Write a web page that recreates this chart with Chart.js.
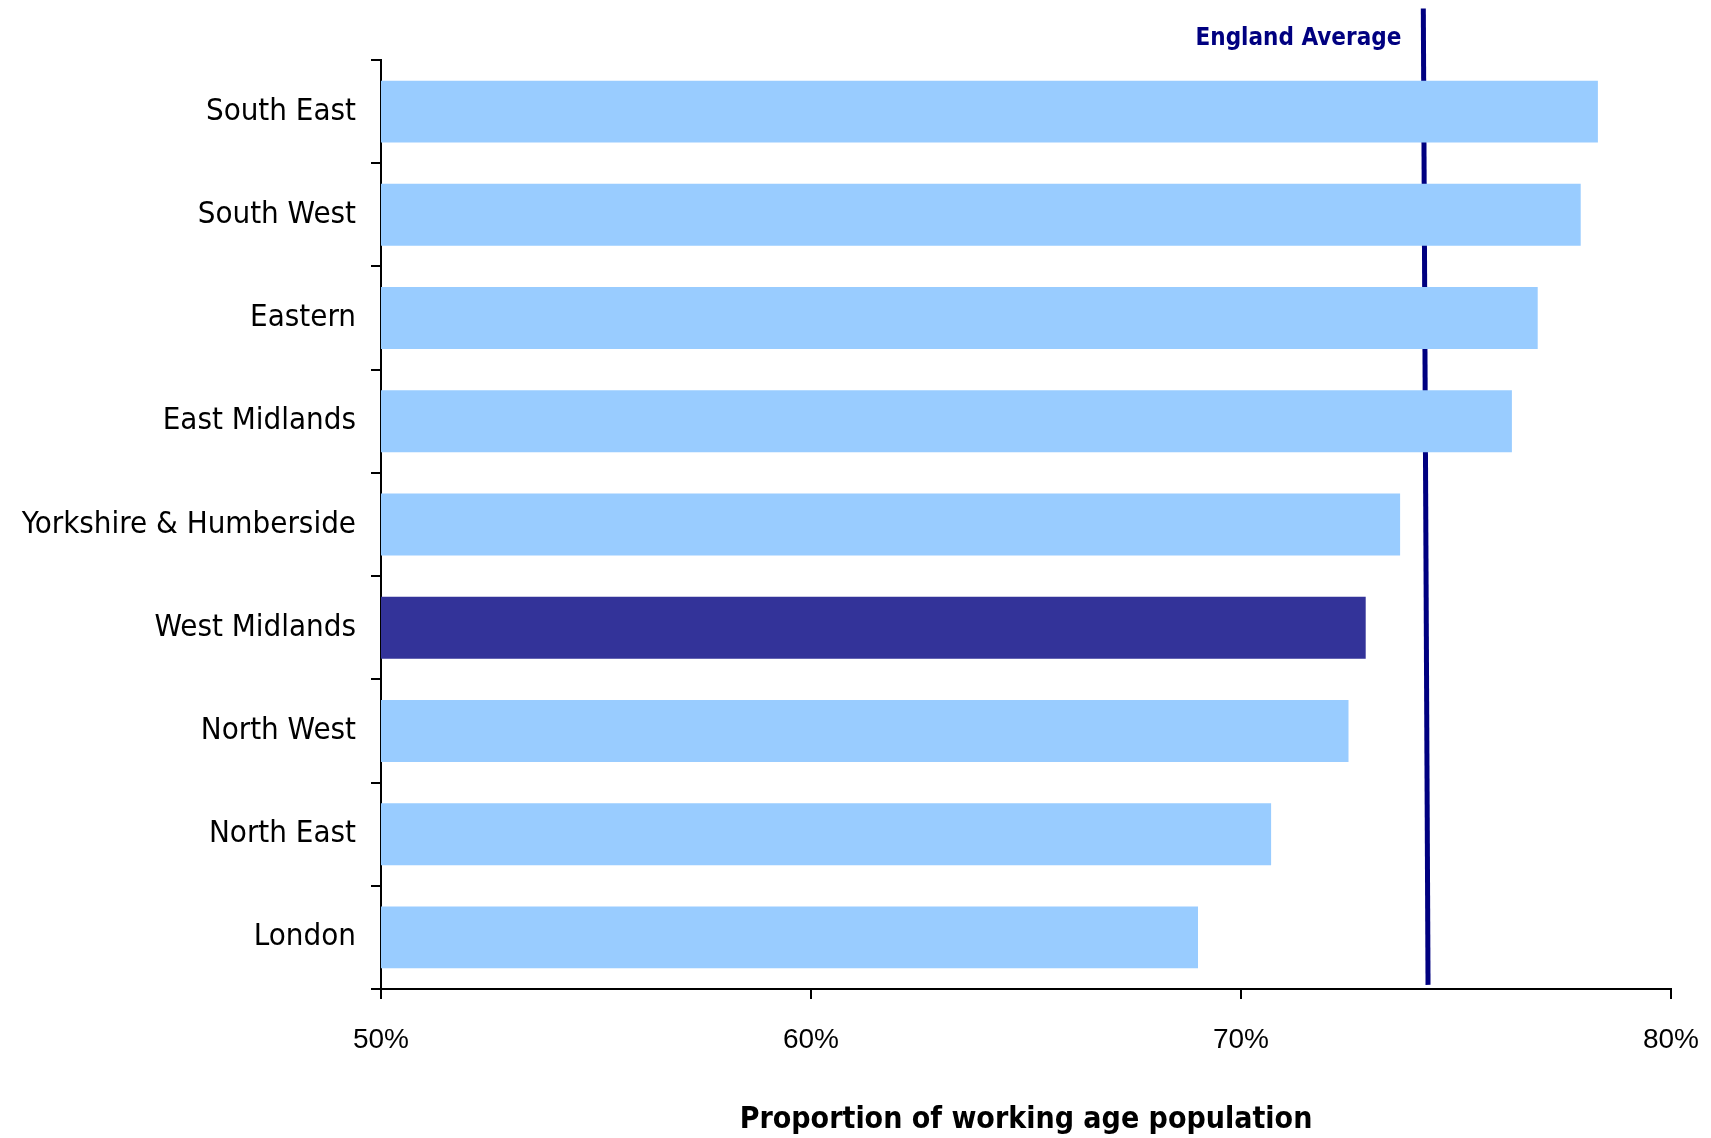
<!DOCTYPE html>
<html>
<head>
<meta charset="utf-8">
<script src="https://cdn.jsdelivr.net/npm/chart.js"></script>
<style>
  html, body { margin: 0; padding: 0; background: #fff; }
  #wrap { width: 1711px; height: 1138px; }
</style>
</head>
<body>
<div id="wrap"><canvas id="myChart"></canvas></div>
<script>
    // Regions, top to bottom
    const regions = ['South East', 'South West', 'Eastern', 'East Midlands', 'Yorkshire & Humberside',
                     'West Midlands', 'North West', 'North East', 'London'];
    // Proportion of working age population (%)
    const values = [78.3, 77.9, 76.9, 76.3, 73.7, 72.9, 72.5, 70.7, 69.0];
    const highlight = 'West Midlands';

    // England average line (drawn slightly slanted, as in the original)
    const avgX = [74.24, 74.35];
    const avgY = [9.5, 0.04];
    const avgLabel = 'England Average';

    const xTicks = [50, 60, 70, 80];

    const catFont = "'DejaVu Sans Condensed', 'DejaVu Sans', sans-serif";
    const tickFont = "'Liberation Sans Narrow', 'Liberation Sans', sans-serif";

    // Label for the average line
    const avgLabelPlugin = {
        id: 'avgLabel',
        afterDatasetsDraw(chart) {
            const c = chart.ctx;
            const x = chart.scales.x.getPixelForValue(avgX[0]);
            c.save();
            c.font = "bold 24px " + catFont;
            c.fillStyle = '#000080';
            c.textAlign = 'right';
            c.textBaseline = 'middle';
            c.fillText(avgLabel, x - 22, chart.chartArea.top - 21);
            c.restore();
        }
    };

    const ctx = document.getElementById('myChart').getContext('2d');
    const myChart = new Chart(ctx, {
        data: {
            labels: regions,
            datasets: [{
                type: 'bar',
                indexAxis: 'y',
                data: values,
                xAxisID: 'x',
                yAxisID: 'y',
                backgroundColor: regions.map(r => r === highlight ? '#333399' : '#99CCFF'),
                categoryPercentage: 1,
                barPercentage: 0.6
            }, {
                type: 'line',
                data: avgX.map((v, i) => ({x: v, y: avgY[i]})),
                xAxisID: 'x',
                yAxisID: 'y2',
                borderColor: '#000080',
                borderWidth: 5,
                pointRadius: 0,
                clip: false
            }]
        },
        options: {
            responsive: true,
            maintainAspectRatio: false,
            animation: false,
            layout: { padding: { top: 60, right: 40, bottom: 0, left: 0 } },
            plugins: { legend: { display: false }, tooltip: { enabled: false } },
            scales: {
                x: {
                    type: 'linear',
                    position: 'bottom',
                    min: 50,
                    max: 80,
                    afterBuildTicks: s => { s.ticks = xTicks.map(v => ({value: v})); },
                    afterFit: s => { s.height = 149; s.paddingLeft = 0; s.paddingRight = 0; },
                    ticks: {
                        color: '#000',
                        padding: 24,
                        font: { family: tickFont, size: 28 },
                        callback: v => v + '%'
                    },
                    grid: { drawOnChartArea: false, tickLength: 10, color: '#000', lineWidth: 2 },
                    border: { color: '#000', width: 2 },
                    title: {
                        display: true,
                        text: 'Proportion of working age population',
                        color: '#000',
                        font: { family: catFont, size: 30, weight: 'bold' },
                        padding: { top: 0, bottom: 0 }
                    }
                },
                y: {
                    type: 'category',
                    position: 'left',
                    offset: true,
                    afterFit: s => { s.width = 381; },
                    ticks: {
                        color: '#000',
                        padding: 15,
                        font: { family: catFont, size: 31 }
                    },
                    grid: { offset: true, drawOnChartArea: false, tickLength: 10, color: '#000', lineWidth: 2 },
                    border: { color: '#000', width: 2 }
                },
                y2: {
                    type: 'linear',
                    display: false,
                    min: 0,
                    max: 9
                }
            }
        },
        plugins: [avgLabelPlugin]
    });
</script>
</body>
</html>
